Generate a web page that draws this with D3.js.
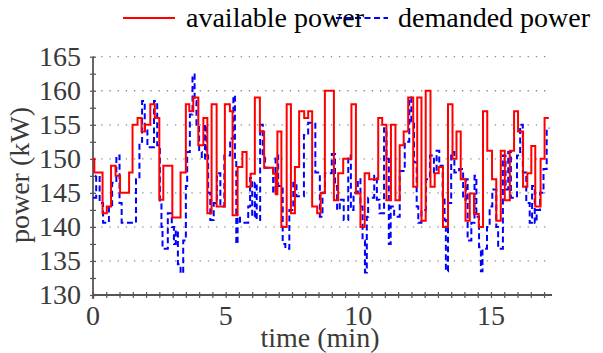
<!DOCTYPE html>
<html>
<head>
<meta charset="utf-8">
<script src="https://cdn.jsdelivr.net/npm/d3@7"></script>
<style>
  body { margin: 0; background: #fff; }
  svg { display: block; font-family: "Liberation Serif", "Times New Roman", serif; }
</style>
</head>
<body>
<div id="chart"></div>
<script>
// available power (red, held steps): change times (min) and levels (kW)
var availTime = [0, 0.05, 0.36, 0.52, 0.68, 0.85, 1.02, 1.36, 1.49, 1.68, 1.83, 1.96, 2.16, 2.33, 2.5, 2.65,
  2.99, 3.3, 3.5, 3.63, 3.78, 3.97, 4.16, 4.31, 4.47, 4.66, 4.97, 5.16, 5.26, 5.45, 5.63, 5.79, 5.94,
  6.1, 6.29, 6.45, 6.79, 6.89, 6.95, 7.1, 7.3, 7.46, 7.61, 7.77, 7.96, 8.11, 8.26, 8.45, 8.58, 8.74,
  9.08, 9.24, 9.43, 9.74, 9.91, 10.08, 10.24, 10.41, 10.75, 10.9, 11.06, 11.23, 11.4, 11.56, 11.71,
  11.88, 12.07, 12.22, 12.38, 12.54, 12.72, 12.88, 13.03, 13.19, 13.38, 13.55, 13.7, 13.86, 14.04,
  14.2, 14.36, 14.54, 14.7, 14.86, 15.04, 15.2, 15.37, 15.52, 15.71, 15.87, 16.02, 16.21, 16.37,
  16.52, 16.67, 16.87, 17.02, 17.18]
var availPower = [150, 148, 142, 143, 149, 147.5, 145, 148, 155, 156, 154, 155, 158, 156, 144, 149,
  141.4, 148, 158, 157, 159, 152, 156, 142, 158, 143, 158, 157, 141.7, 148.8, 151, 145.9, 147.8,
  159, 154, 148.7, 147.8, 144.8, 154, 140, 158, 142, 148.8, 157, 156, 157, 143, 142, 145, 160,
  143.9, 147.9, 150, 158, 144.9, 140, 147.9, 147, 156, 155, 143.9, 155, 143.9, 152, 154,
  159, 145.9, 159, 140.9, 160, 145.9, 147.9, 148.8, 140, 158, 150, 154, 147, 140.9,
  144.9, 141.9, 140, 157, 151.2, 147, 140.9, 151.2, 143.9, 151.2, 157, 154, 145.9, 147.9,
  151.9, 143, 150, 156, 156]

// demanded power (blue, dashed)
var demandTime = [0, 0.12, 0.25, 0.38, 0.6, 0.72, 0.88, 1.0, 1.08, 1.62, 1.75, 1.85, 1.95, 2.05, 2.3,
  2.42, 2.52, 2.58, 2.62, 2.82, 2.97, 3.05, 3.12, 3.2, 3.3, 3.4, 3.5, 3.55, 3.65, 3.75, 3.83, 3.9,
  4.0, 4.1, 4.22, 4.28, 4.34, 4.42, 4.55, 4.67, 4.8, 4.95, 5.17, 5.29, 5.35, 5.4, 5.45, 5.54, 5.85,
  5.92, 6.0, 6.1, 6.17, 6.3, 6.4, 6.48, 6.79, 6.88, 6.98, 7.15, 7.25, 7.4, 7.55, 7.67, 7.95, 8.11,
  8.38, 8.55, 8.65, 8.74, 9.0, 9.12, 9.2, 9.3, 9.45, 9.62, 9.72, 9.82, 9.98, 10.08, 10.16, 10.25,
  10.32, 10.37, 10.6, 10.7, 10.8, 10.97, 11.06, 11.15, 11.22, 11.35, 11.56, 11.75, 11.92, 12.0,
  12.1, 12.2, 12.26, 12.38, 12.55, 12.7, 12.85, 12.95, 13.05, 13.18, 13.25, 13.3, 13.38, 13.5,
  13.62, 13.8, 13.95, 14.05, 14.12, 14.26, 14.38, 14.45, 14.55, 14.62, 14.68, 14.85, 14.95, 15.05,
  15.2, 15.27, 15.45, 15.55, 15.65, 15.75, 15.98, 16.1, 16.2, 16.33, 16.46, 16.55, 16.65, 16.72,
  16.85, 16.98, 17.1, 17.2]
var demandPower = [144.3, 147.5, 143.5, 140.6, 143, 146.5, 150.5, 143.5, 140.6, 147, 152.5, 158.5, 154.5, 151.7, 158.5,
  152, 143.5, 140, 136.8, 142, 140, 137.5, 139.5, 134.5, 133.2, 138, 146, 151, 156.5, 162.4, 158.5, 155,
  151, 150, 155, 150.5, 145, 141, 143.5, 147.9, 143, 150.5, 153, 159.3, 150, 137.5, 141.5, 140.6, 143,
  147.2, 141.5, 146.5, 141, 155, 150.5, 148.7, 145, 150.5, 146, 137.5, 136.8, 142.5, 146.5, 144.5, 153.5, 155.3,
  148, 141.5, 145, 147.9, 150.7, 146, 142.5, 144, 141, 150.5, 142.5, 145, 147, 143, 138, 133.3,
  141.5, 144.3, 147.5, 144, 142, 154.5, 150, 137.5, 143, 141.5, 148.2, 152.5, 159, 155.5,
  149.5, 143, 140.6, 142.5, 147, 150.5, 148, 151.2, 149, 144.5, 141, 133.5, 143.5, 151,
  148, 148.5, 144, 147, 138, 140.6, 147.5, 141.5, 137, 133.5, 136.8, 140, 143, 145.5,
  140, 136.8, 150.5, 145.5, 151, 144.3, 150.5, 155, 148, 143.5, 140.6, 146, 140.6, 142.5,
  145, 148.5, 154.5, 154.5]

var yTicks = [130, 135, 140, 145, 150, 155, 160, 165]
var xTicks = [0, 5, 10, 15]
var seriesNames = ["available power", "demanded power"]
var seriesColors = ["#ff0000", "#0000ff"]

var width = 603, height = 353
var margin = { left: 93, right: 51, top: 56.7, bottom: 58 }

var svg = d3.select("#chart").append("svg")
  .attr("width", width)
  .attr("height", height)

var x = d3.scaleLinear()
  .domain([0, 17.3])
  .range([margin.left, width - margin.right])

var y = d3.scaleLinear()
  .domain([130, 165])
  .range([height - margin.bottom, margin.top])

var axisColor = "#555"
var labelColor = "#3a3a3a"

/* ------- GRID -------*/
svg.append("g")
  .selectAll("line")
  .data(yTicks.slice(1))
  .join("line")
    .attr("x1", x(0))
    .attr("x2", x(17.3))
    .attr("y1", d => y(d))
    .attr("y2", d => y(d))
    .attr("stroke", "#8a8a8a")
    .attr("stroke-width", 1.3)
    .attr("stroke-dasharray", "1.3,6.9")

/* ------- AXES -------*/
var xAxis = svg.append("g")
  .attr("transform", "translate(0," + y(130) + ")")
  .call(d3.axisBottom(x).tickValues(d3.range(0, 17.3, 0.5)).tickSize(3).tickFormat(""))
xAxis.call(g => g.selectAll(".tick line").attr("y1", -3))
xAxis.selectAll("path, line").attr("stroke", axisColor).attr("stroke-width", 1.2)
xAxis.select("path").attr("d", "M" + x(0) + ",0H" + x(17.3)).attr("stroke-width", 1.8)

svg.append("g")
  .selectAll("text")
  .data(xTicks)
  .join("text")
    .attr("x", d => x(d))
    .attr("y", y(130) + 30)
    .attr("text-anchor", "middle")
    .attr("font-size", 28)
    .attr("fill", labelColor)
    .text(d => d)

var yAxis = svg.append("g")
  .attr("transform", "translate(" + x(0) + ",0)")
  .call(d3.axisLeft(y).tickValues(d3.range(130, 165.1, 2.5)).tickSize(3).tickFormat(""))
yAxis.call(g => g.selectAll(".tick line").attr("x1", 3))
yAxis.selectAll("path, line").attr("stroke", axisColor).attr("stroke-width", 1.2)
yAxis.select("path").attr("d", "M0," + y(165) + "V" + (y(130) + 4)).attr("stroke-width", 1.8)

svg.append("g")
  .selectAll("text")
  .data(yTicks)
  .join("text")
    .attr("x", x(0) - 12)
    .attr("y", d => y(d) + 9)
    .attr("text-anchor", "end")
    .attr("font-size", 28)
    .attr("fill", labelColor)
    .text(d => d)

svg.append("text")
  .attr("x", 320)
  .attr("y", 347)
  .attr("text-anchor", "middle")
  .attr("font-size", 28)
  .attr("fill", labelColor)
  .text("time (min)")

svg.append("text")
  .attr("transform", "translate(29," + 175 + ") rotate(-90)")
  .attr("text-anchor", "middle")
  .attr("font-size", 28)
  .attr("fill", labelColor)
  .text("power (kW)")

/* ------- LINES -------*/
var line = d3.line()
  .x(d => x(d[0]))
  .y(d => y(d[1]))
  .curve(d3.curveStepAfter)

svg.append("path")
  .datum(d3.zip(demandTime, demandPower))
  .attr("fill", "none")
  .attr("stroke", seriesColors[1])
  .attr("stroke-width", 2)
  .attr("stroke-dasharray", "6,3.5")
  .attr("d", line)

svg.append("path")
  .datum(d3.zip(availTime, availPower))
  .attr("fill", "none")
  .attr("stroke", seriesColors[0])
  .attr("stroke-width", 2)
  .attr("d", line)

/* ------- LEGEND -------*/
var legend = svg.append("g")
var legendX = [123, 336]
var textX = [186, 398]
legend.selectAll("line")
  .data(seriesNames)
  .join("line")
    .attr("x1", (d, i) => legendX[i])
    .attr("x2", (d, i) => legendX[i] + 52)
    .attr("y1", 18)
    .attr("y2", 18)
    .attr("stroke", (d, i) => seriesColors[i])
    .attr("stroke-width", 2)
    .attr("stroke-dasharray", (d, i) => i ? "6,3.5" : null)
legend.selectAll("text")
  .data(seriesNames)
  .join("text")
    .attr("x", (d, i) => textX[i])
    .attr("y", 27)
    .attr("font-size", 28)
    .attr("fill", "#000")
    .text(d => d)
</script>
</body>
</html>
